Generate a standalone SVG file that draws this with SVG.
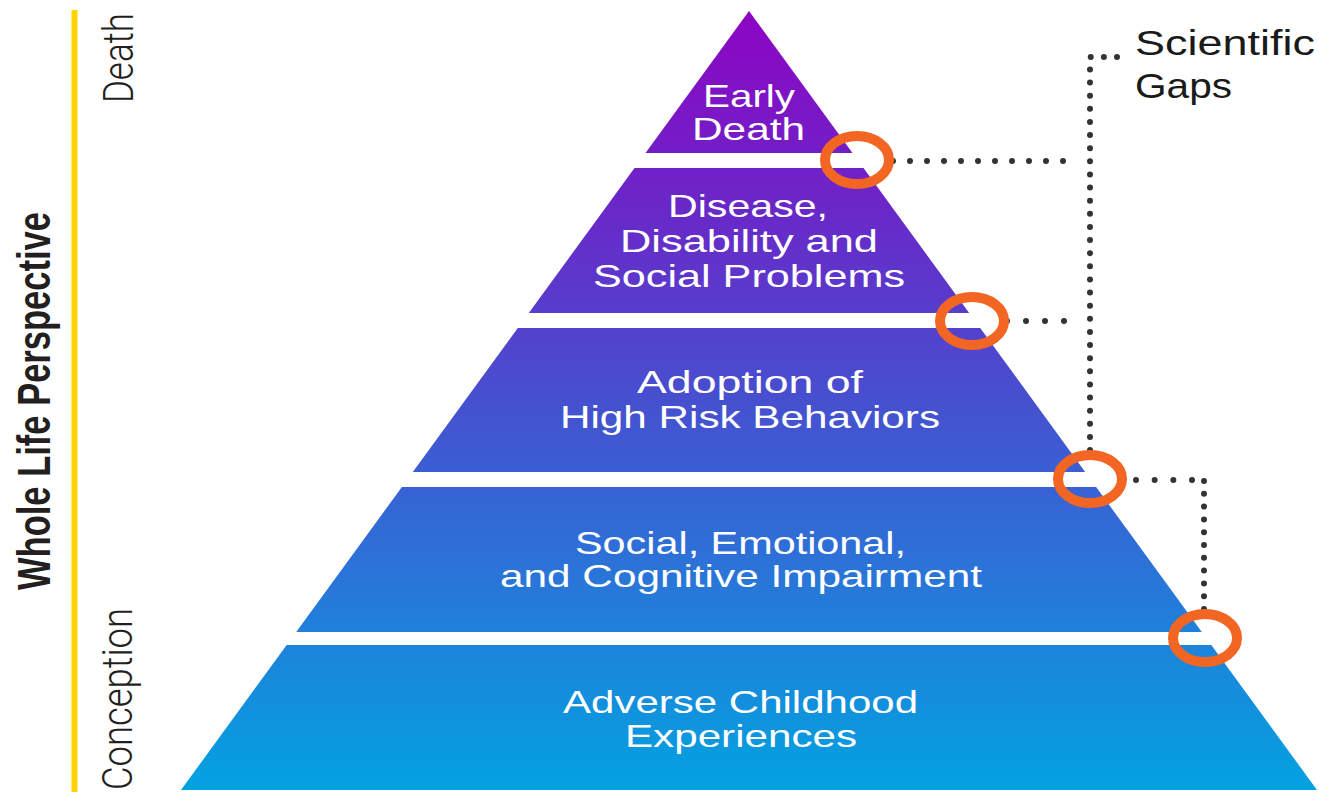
<svg xmlns="http://www.w3.org/2000/svg" width="1319" height="792" viewBox="0 0 1319 792">
  <defs>
    <!-- one vertical gradient shared by every tier of the pyramid -->
    <linearGradient id="tierFill" gradientUnits="userSpaceOnUse" x1="0" y1="11" x2="0" y2="790">
      <stop offset="0" stop-color="#8d05c3"/>
      <stop offset="0.25" stop-color="#6a27c8"/>
      <stop offset="0.5" stop-color="#4650cf"/>
      <stop offset="0.72" stop-color="#2a74d8"/>
      <stop offset="1" stop-color="#03a2e0"/>
    </linearGradient>
    <style>
      .tier { fill: url(#tierFill); }
      .tier-label { font-family: "Liberation Sans", Arial, sans-serif; font-size: 32px; fill: #ffffff; text-anchor: middle; }
      .gap-ring { fill: none; stroke: #f26522; stroke-width: 10; }
      .dots { fill: none; stroke: #333333; stroke-width: 6; stroke-linecap: round; }
      .side-title { font-family: "Liberation Sans", Arial, sans-serif; font-weight: bold; font-size: 46px; fill: #231f20; text-anchor: middle; }
      .side-end { font-family: Roboto, "Liberation Sans", sans-serif; font-weight: 300; font-size: 42px; fill: #231f20; text-anchor: middle; }
      .gaps-label { font-family: "Liberation Sans", Arial, sans-serif; font-size: 35px; fill: #1a1a1a; }
    </style>
  </defs>

  <rect width="1319" height="792" fill="#ffffff"/>

  <!-- life-course axis -->
  <g id="axis">
    <line x1="74.5" y1="10" x2="74.5" y2="792" stroke="#ffd400" stroke-width="6"/>
    <text class="side-title" transform="translate(50,401) rotate(-90)" textLength="378" lengthAdjust="spacingAndGlyphs">Whole Life Perspective</text>
    <text class="side-end" transform="translate(133,58) rotate(-90)" textLength="90" lengthAdjust="spacingAndGlyphs">Death</text>
    <text class="side-end" transform="translate(132,699) rotate(-90)" textLength="182" lengthAdjust="spacingAndGlyphs">Conception</text>
  </g>

  <!-- pyramid tiers, top to bottom -->
  <g id="tier-early-death">
    <polygon class="tier" points="749,11 852.5,153 645.5,153"/>
    <text class="tier-label" x="749" y="107" textLength="92" lengthAdjust="spacingAndGlyphs">Early</text>
    <text class="tier-label" x="748.5" y="140" textLength="113" lengthAdjust="spacingAndGlyphs">Death</text>
  </g>

  <g id="tier-disease">
    <polygon class="tier" points="634.5,168 863.5,168 969.2,313 528.8,313"/>
    <text class="tier-label" x="748" y="217" textLength="160" lengthAdjust="spacingAndGlyphs">Disease,</text>
    <text class="tier-label" x="749" y="252" textLength="258" lengthAdjust="spacingAndGlyphs">Disability and</text>
    <text class="tier-label" x="749" y="287" textLength="312" lengthAdjust="spacingAndGlyphs">Social Problems</text>
  </g>

  <g id="tier-risk-behaviors">
    <polygon class="tier" points="517.8,328 980.2,328 1085.2,472 412.8,472"/>
    <text class="tier-label" x="750" y="393" textLength="226" lengthAdjust="spacingAndGlyphs">Adoption of</text>
    <text class="tier-label" x="750" y="428" textLength="380" lengthAdjust="spacingAndGlyphs">High Risk Behaviors</text>
  </g>

  <g id="tier-impairment">
    <polygon class="tier" points="401.9,487 1096.1,487 1201.8,632 296.2,632"/>
    <text class="tier-label" x="740.5" y="554" textLength="331" lengthAdjust="spacingAndGlyphs">Social, Emotional,</text>
    <text class="tier-label" x="741" y="587" textLength="482" lengthAdjust="spacingAndGlyphs">and Cognitive Impairment</text>
  </g>

  <g id="tier-aces">
    <polygon class="tier" points="286.7,645 1211.3,645 1317,790 181,790"/>
    <text class="tier-label" x="740.5" y="713" textLength="355" lengthAdjust="spacingAndGlyphs">Adverse Childhood</text>
    <text class="tier-label" x="741" y="747" textLength="232" lengthAdjust="spacingAndGlyphs">Experiences</text>
  </g>

  <!-- dotted leader lines -->
  <g id="connectors">
    <path class="dots" d="M893 161 H1064" stroke-dasharray="0 17"/>
    <path class="dots" d="M1007 321 H1065" stroke-dasharray="0 19"/>
    <path class="dots" d="M1117 57 H1090 V451" stroke-dasharray="0 13.125"/>
    <path class="dots" d="M1136 480 H1193" stroke-dasharray="0 18.67"/>
    <path class="dots" d="M1204 481 V610" stroke-dasharray="0 12.8"/>
  </g>

  <!-- transition rings between tiers -->
  <g id="gap-1"><ellipse class="gap-ring" cx="857" cy="160" rx="32" ry="24"/></g>
  <g id="gap-2"><ellipse class="gap-ring" cx="972" cy="321" rx="32" ry="24"/></g>
  <g id="gap-3"><ellipse class="gap-ring" cx="1090" cy="479" rx="32" ry="24"/></g>
  <g id="gap-4"><ellipse class="gap-ring" cx="1205" cy="638" rx="32" ry="24"/></g>

  <g id="scientific-gaps">
    <text class="gaps-label" x="1135" y="55" textLength="180" lengthAdjust="spacingAndGlyphs">Scientific</text>
    <text class="gaps-label" x="1135" y="98" textLength="97" lengthAdjust="spacingAndGlyphs">Gaps</text>
  </g>
</svg>
